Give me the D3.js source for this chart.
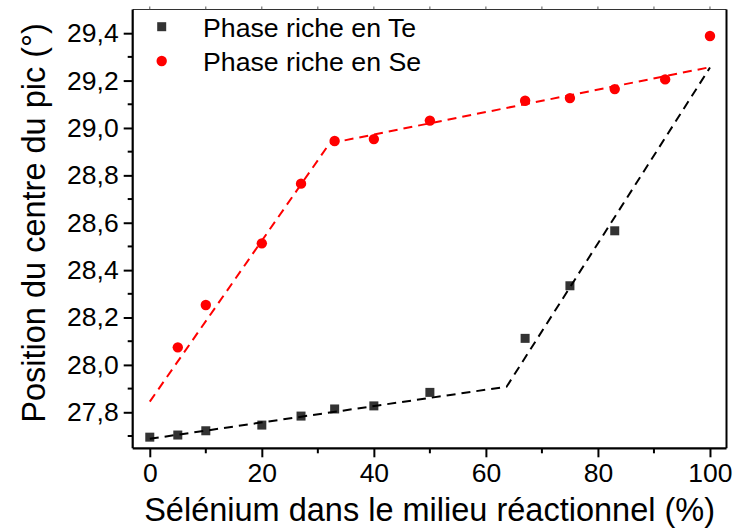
<!DOCTYPE html>
<html>
<head>
<meta charset="utf-8">
<script src="https://cdn.jsdelivr.net/npm/d3@7/dist/d3.min.js"></script>
<style>
  html, body { margin: 0; padding: 0; background: #fff; }
  svg { display: block; font-family: "Liberation Sans", Arial, sans-serif; }
</style>
</head>
<body>
<svg id="chart" width="736" height="530"></svg>
<script>
// ---- Data ----
const teX = [0, 5, 10, 20, 27, 33, 40, 50, 67, 75, 83];
const teY = [27.695, 27.704, 27.722, 27.746, 27.784, 27.814, 27.827, 27.884, 28.112, 28.334, 28.566];
const seX = [5, 10, 20, 27, 33, 40, 50, 67, 75, 83, 92, 100];
const seY = [28.074, 28.253, 28.513, 28.765, 28.945, 28.953, 29.031, 29.115, 29.126, 29.164, 29.205, 29.388];
// piecewise fit lines (dashed)
const teFitX = [0, 63.7, 100];
const teFitY = [27.688, 27.908, 29.255];
const seFitX = [0, 32.1, 100.3];
const seFitY = [27.845, 28.935, 29.258];
const xTicks = [0, 20, 40, 60, 80, 100];
const xMinor = [10, 30, 50, 70, 90];
const yTicks = [27.8, 28.0, 28.2, 28.4, 28.6, 28.8, 29.0, 29.2, 29.4];
const yMinor = [27.7, 27.9, 28.1, 28.3, 28.5, 28.7, 28.9, 29.1, 29.3];
const legendLabels = ["Phase riche en Te", "Phase riche en Se"];
const xTitle = "Sélénium dans le milieu réactionnel (%)";
const yTitle = "Position du centre du pic (°)";

// ---- Layout ----
const W = 736, H = 530;
const m = { left: 132.7, right: 9.5, top: 9.5, bottom: 81.7 };
const svg = d3.select("#chart");
const x = d3.scaleLinear().domain([-3.05, 102.95]).range([m.left, W - m.right]);
const y = d3.scaleLinear().domain([27.648, 29.5]).range([H - m.bottom, m.top]);
const fmt = v => d3.format(".1f")(v).replace(".", ",");

// frame: top (thin) and right (thick)
svg.append("line").attr("x1", m.left).attr("x2", W - m.right).attr("y1", m.top).attr("y2", m.top)
  .attr("stroke", "#333").attr("stroke-width", 1.2);
svg.append("g").selectAll("line").data(xTicks.concat(xMinor)).join("line")
  .attr("x1", d => x(d)).attr("x2", d => x(d)).attr("y1", m.top).attr("y2", m.top - 3)
  .attr("stroke", "#555").attr("stroke-width", 1);
svg.append("line").attr("x1", W - m.right).attr("x2", W - m.right).attr("y1", m.top).attr("y2", H - m.bottom)
  .attr("stroke", "#000").attr("stroke-width", 2);

// x axis
const gx = svg.append("g").attr("transform", `translate(0,${H - m.bottom})`)
  .call(d3.axisBottom(x).tickValues(xTicks).tickFormat(d3.format("d")).tickSize(9).tickPadding(6));
gx.append("g").selectAll("line").data(xMinor).join("line")
  .attr("x1", d => x(d)).attr("x2", d => x(d)).attr("y1", 0).attr("y2", 5)
  .attr("stroke", "#000").attr("stroke-width", 2);
// y axis
const gy = svg.append("g").attr("transform", `translate(${m.left},0)`)
  .call(d3.axisLeft(y).tickValues(yTicks).tickFormat(fmt).tickSize(9).tickPadding(5));
gy.append("g").selectAll("line").data(yMinor).join("line")
  .attr("x1", 0).attr("x2", -5).attr("y1", d => y(d)).attr("y2", d => y(d))
  .attr("stroke", "#000").attr("stroke-width", 2);

[gx, gy].forEach(g => {
  g.select(".domain").attr("stroke", "#000").attr("stroke-width", 2.2);
  g.selectAll(".tick line").attr("stroke", "#000").attr("stroke-width", 2);
  g.selectAll(".tick text").attr("fill", "#000").attr("font-size", 26.5)
    .attr("font-family", "Liberation Sans, Arial, sans-serif");
});
gx.select(".domain").attr("d", `M${m.left},0H${W - m.right}`);
gy.select(".domain").attr("d", `M0,${H - m.bottom}V${m.top}`);

// titles
svg.append("text").attr("x", (m.left + W - m.right) / 2).attr("y", 521)
  .attr("text-anchor", "middle").attr("font-size", 32.5).attr("fill", "#000").text(xTitle);
svg.append("text").attr("transform", `translate(45,${(m.top + H - m.bottom) / 2 - 6}) rotate(-90)`)
  .attr("text-anchor", "middle").attr("font-size", 32.5).attr("fill", "#000").text(yTitle);

// markers
const te = teX.map((d, i) => [d, teY[i]]);
const se = seX.map((d, i) => [d, seY[i]]);
svg.append("g").selectAll("rect").data(te).join("rect")
  .attr("x", d => x(d[0]) - 4.5).attr("y", d => y(d[1]) - 4.5)
  .attr("width", 9).attr("height", 9).attr("fill", "#333");
svg.append("g").selectAll("circle").data(se).join("circle")
  .attr("cx", d => x(d[0])).attr("cy", d => y(d[1])).attr("r", 5.2).attr("fill", "#ff0000");

// fit lines
const line = d3.line().x(d => x(d[0])).y(d => y(d[1]));
svg.append("path").datum(teFitX.map((d, i) => [d, teFitY[i]])).attr("d", line)
  .attr("fill", "none").attr("stroke", "#000").attr("stroke-width", 2).attr("stroke-dasharray", "9,6");
svg.append("path").datum(seFitX.map((d, i) => [d, seFitY[i]])).attr("d", line)
  .attr("fill", "none").attr("stroke", "#ff0000").attr("stroke-width", 2).attr("stroke-dasharray", "9,6");

// legend
const lg = svg.append("g");
lg.append("rect").attr("x", 161.7 - 4.5).attr("y", 26.7 - 4.5).attr("width", 9).attr("height", 9).attr("fill", "#333");
lg.append("circle").attr("cx", 161.7).attr("cy", 61).attr("r", 5.2).attr("fill", "#ff0000");
lg.selectAll("text").data(legendLabels).join("text")
  .attr("x", 203).attr("y", (d, i) => 36.5 + i * 34)
  .attr("font-size", 26.7).attr("fill", "#000").text(d => d);
</script>
</body>
</html>
